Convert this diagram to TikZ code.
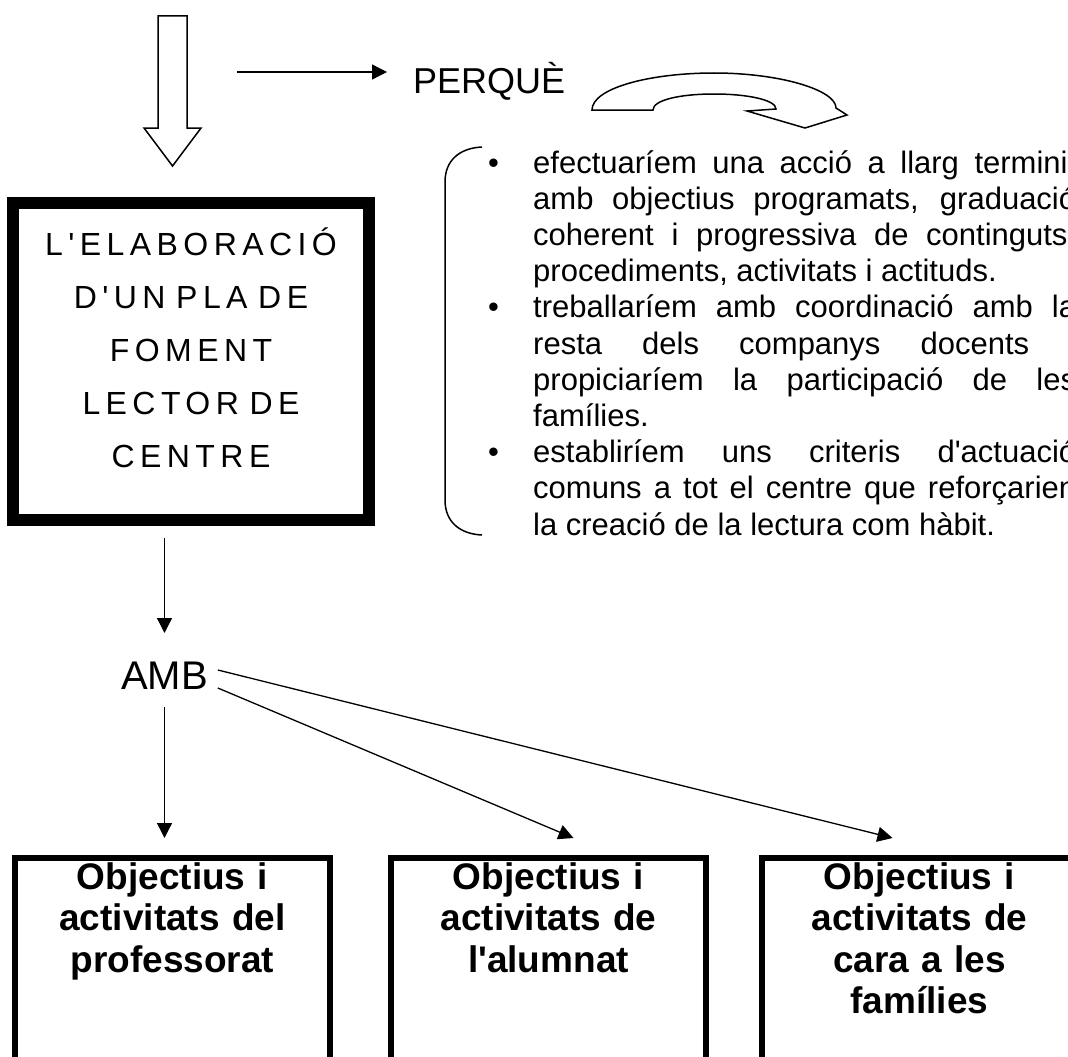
\documentclass[tikz,border=0pt]{standalone}
\usepackage{fontspec}
\setmainfont{Liberation Sans}[Ligatures=TeXOff]
\newfontfamily\planfont{Liberation Sans}[Ligatures=TeXOff,LetterSpace=17]
\usetikzlibrary{positioning,arrows.meta,calc}
\tikzset{link/.style={line width=1.3pt,-{Triangle[length=15pt,width=15pt]}}}
\tikzset{outline/.style={line width=1.5pt,line join=miter}}
\tikzset{goalbox/.style={draw,line width=6pt,inner sep=0pt,text width=315pt,align=center,text height=31pt,text depth=211pt,font=\fontsize{37}{41.5}\selectfont\bfseries}}

\begin{document}
\begin{tikzpicture}[x=1pt,y=-1pt]
	\useasboundingbox (0,0) rectangle (1068,1057);
	\clip (0,0) rectangle (1068,1057);
	%%
	\draw[outline] (158,16) -- (187,16) -- (187,128) -- (201,128) -- (172.5,166) -- (144,128) -- (158,128) -- cycle;
	\coordinate (perqstart) at (237,72);
	\node[anchor=base west,inner xsep=26pt,inner ysep=0pt,font=\fontsize{36}{40}\selectfont] (perque) at (387,93) {PERQUÈ};
	\draw[link] (perqstart) -- (perqstart -| perque.west);
	\draw[outline] (592,110) .. controls (592,88) and (650,73) .. (714,73) .. controls (780,73) and (836,90) .. (836,108)
		-- (847,115) -- (805,128) -- (747,111) -- (776,109)
		.. controls (776,100) and (748,94) .. (714,94) .. controls (680,94) and (653,100) .. (653,110) -- cycle;
	%%
	\node[draw,line width=12pt,inner sep=0pt,text width=356pt,align=center,text height=52pt,text depth=265pt,
		font=\planfont\fontsize{32}{53}\selectfont,anchor=base] (plan) at (191,255)
		{L'ELABORACIÓ\\D'UN PLA DE\\FOMENT\\LECTOR DE\\CENTRE};
	%%
	\draw[line width=1.5pt] (482,147) .. controls (460,148) and (445,160) .. (445,182) -- (445,500)
		.. controls (445,522) and (460,534) .. (482,535);
	\node[anchor=base west,inner sep=0pt,text width=588pt,align=justify,font=\fontsize{31}{36.2}\selectfont] (reasons) at (488,173)
		{\hangindent=45pt\hangafter=1\noindent\makebox[45pt][l]{\textbullet}efectuaríem una acció a llarg termini,\linebreak
		amb objectius programats, graduació\linebreak coherent i progressiva de continguts,\linebreak procediments, activitats i actituds.\par
		\hangindent=45pt\hangafter=1\noindent\makebox[45pt][l]{\textbullet}treballaríem amb coordinació amb la\linebreak
		resta dels companys docents i\linebreak propiciaríem la participació de les\linebreak famílies.\par
		\hangindent=45pt\hangafter=1\noindent\makebox[45pt][l]{\textbullet}establiríem uns criteris d'actuació\linebreak
		comuns a tot el centre que reforçarien\linebreak la creació de la lectura com hàbit.\par};
	%%
	\node[anchor=base,inner xsep=10pt,inner ysep=0pt,outer sep=0pt,text height=56pt,text depth=18pt,
		font=\fontsize{40}{44}\selectfont] (amb) at (164.5,689) {AMB};
	\draw[link,shorten <=12pt] (amb.north |- plan.south) -- (amb.north);
	%%
	\node[goalbox,anchor=base] (prof) at (172.5,889) {Objectius i\\activitats del\\professorat};
	\node[goalbox,right=55pt of prof] (alum) {Objectius i\\activitats de\\l'alumnat};
	\node[goalbox,right=50pt of alum] (fam) {Objectius i\\activitats de\\cara a les\\famílies};
	%%
	\coordinate (alumtip) at ([xshift=25pt,yshift=17pt]alum.north);
	\coordinate (famtip) at ([xshift=-27pt,yshift=17pt]fam.north);
	\coordinate (proftip) at (amb.south |- alumtip);
	\draw[link] (amb.south) -- (proftip);
	\draw[link] ([yshift=-18pt]amb.east) -- (alumtip);
	\draw[link] (amb.east) -- (famtip);
\end{tikzpicture}
\end{document}
